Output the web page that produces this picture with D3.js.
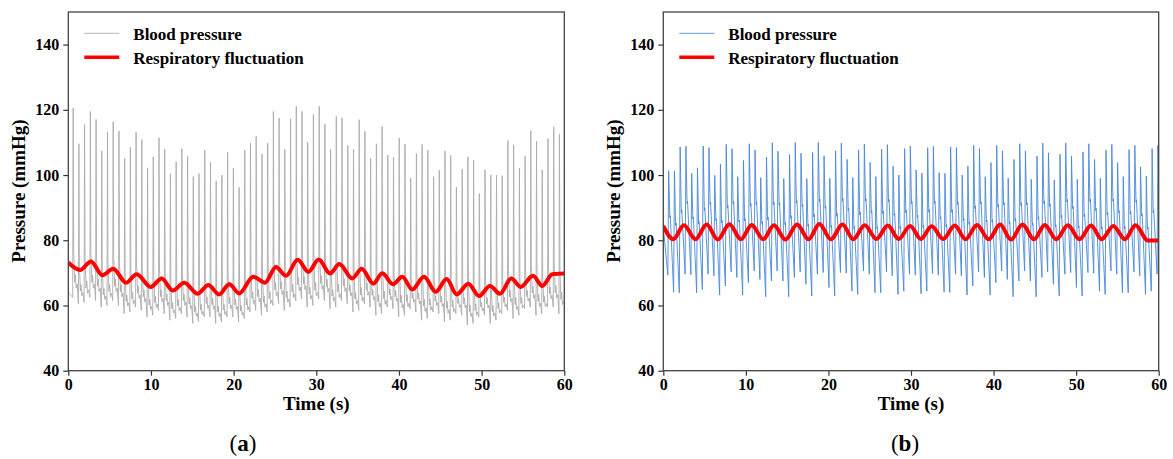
<!DOCTYPE html>
<html>
<head>
<meta charset="utf-8">
<script src="https://cdn.jsdelivr.net/npm/d3@7/dist/d3.min.js"></script>
<style>
  body { margin: 0; background: #fff; }
  text { font-family: "Liberation Serif", "Times New Roman", serif; }
</style>
</head>
<body>
<div id="container"></div>
<script>
var width = 1173,
    height = 459;

// ---- panel (a): beats ----
var leftBeatTimes = [0.53, 1.22, 1.91, 2.61, 3.30, 3.99, 4.68, 5.37, 6.07, 6.76,
    7.45, 8.14, 8.83, 9.53, 10.22, 10.91, 11.60, 12.29, 12.99, 13.68,
    14.37, 15.06, 15.75, 16.45, 17.14, 17.83, 18.52, 19.21, 19.91, 20.60,
    21.29, 21.98, 22.67, 23.37, 24.06, 24.75, 25.44, 26.13, 26.83, 27.52,
    28.21, 28.90, 29.59, 30.29, 30.98, 31.67, 32.36, 33.05, 33.75, 34.44,
    35.13, 35.82, 36.51, 37.21, 37.90, 38.59, 39.28, 39.97, 40.67, 41.36,
    42.05, 42.74, 43.43, 44.13, 44.82, 45.51, 46.20, 46.89, 47.59, 48.28,
    48.97, 49.66, 50.35, 51.05, 51.74, 52.43, 53.12, 53.81, 54.51, 55.20,
    55.89, 56.58, 57.27, 57.97, 58.66, 59.35];
var leftSystolic = [120.5, 109.6, 115.5, 119.5, 117.1, 107.4, 113.2, 116.4, 113.5, 105.1,
    108.6, 113.2, 110.9, 102.2, 105.6, 111.4, 108.0, 100.4, 104.1, 108.1,
    105.8, 99.5, 100.4, 107.6, 103.9, 98.2, 100.0, 107.0, 102.1, 96.2,
    107.6, 109.8, 111.9, 106.5, 109.8, 119.5, 117.5, 107.9, 117.3, 121.1,
    119.5, 110.0, 118.6, 121.1, 115.7, 107.9, 118.0, 117.6, 109.1, 107.9,
    117.0, 113.4, 105.1, 109.6, 114.9, 106.1, 105.5, 111.4, 109.5, 99.1,
    106.6, 109.4, 107.6, 99.5, 101.5, 107.4, 106.0, 96.3, 101.8, 105.6,
    104.6, 94.3, 101.6, 100.0, 100.0, 99.8, 110.6, 109.3, 102.1, 105.8,
    113.6, 110.4, 101.6, 111.2, 114.8, 112.5];
var leftDiastolic = [62.5, 60.5, 61.0, 62.5, 61.5, 59.5, 60.0, 61.5, 60.0, 57.5,
    58.0, 59.5, 58.5, 56.5, 57.0, 58.5, 57.5, 55.5, 56.0, 57.5,
    56.5, 54.5, 55.0, 56.5, 56.5, 54.5, 55.0, 56.5, 56.5, 55.0,
    56.0, 58.0, 58.5, 57.0, 58.0, 60.0, 60.5, 58.5, 59.5, 61.5,
    62.0, 59.5, 60.0, 62.0, 61.5, 59.0, 59.5, 61.5, 60.5, 58.0,
    58.5, 60.5, 59.5, 57.0, 57.5, 59.5, 59.0, 56.5, 57.0, 59.0,
    58.0, 55.5, 56.0, 58.0, 57.5, 55.0, 55.5, 57.5, 57.0, 54.0,
    54.5, 56.5, 57.0, 54.5, 55.5, 57.5, 58.5, 56.0, 57.0, 59.0,
    59.5, 57.0, 57.5, 59.5, 59.5, 57.5];
var leftStartValue = 64;
// one beat of (a): seconds after onset, and fraction of the pulse height
var leftShapeOffset = [0, 0.06, 0.12, 0.16, 0.24, 0.32, 0.42, 0.55];
var leftShapeLevel = [0, 1, 0.24, 0.2, 0.08, 0.12, 0.05, 0.07];

var leftRespTime = [0, 1.42, 2.75, 4.11, 5.44, 6.98, 8.27, 9.97, 11.30, 12.63,
    14.03, 15.65, 16.94, 18.23, 19.48, 20.68, 22.38, 23.79, 25.12, 26.33,
    27.75, 29.03, 30.30, 31.66, 32.78, 34.35, 35.49, 36.89, 37.98, 39.28,
    40.40, 41.61, 43.03, 44.44, 45.77, 46.98, 48.39, 49.68, 51.01, 52.22,
    53.59, 54.72, 56.21, 57.34, 58.55, 60];
var leftRespValue = [73.2, 70.9, 73.5, 69.3, 71.3, 67.0, 69.6, 65.7, 68.3, 64.6,
    67.0, 63.6, 66.3, 63.4, 66.5, 63.7, 68.8, 67.0, 71.8, 69.1,
    74.0, 70.3, 74.1, 69.8, 72.7, 68.3, 71.3, 66.7, 69.9, 66.5,
    68.8, 64.9, 68.8, 64.2, 68.1, 63.4, 66.7, 62.9, 66.0, 63.6,
    68.3, 65.7, 69.1, 66.0, 69.6, 69.8];

// ---- panel (b) ----
var rightBeatTimes = [0.55, 1.25, 1.94, 2.64, 3.34, 4.04, 4.73, 5.43, 6.13, 6.82,
    7.52, 8.22, 8.91, 9.61, 10.31, 11.01, 11.70, 12.40, 13.10, 13.79,
    14.49, 15.19, 15.88, 16.58, 17.28, 17.98, 18.67, 19.37, 20.07, 20.76,
    21.46, 22.16, 22.85, 23.55, 24.25, 24.95, 25.64, 26.34, 27.04, 27.73,
    28.43, 29.13, 29.82, 30.52, 31.22, 31.92, 32.61, 33.31, 34.01, 34.70,
    35.40, 36.10, 36.79, 37.49, 38.19, 38.89, 39.58, 40.28, 40.98, 41.67,
    42.37, 43.07, 43.76, 44.46, 45.16, 45.86, 46.55, 47.25, 47.95, 48.64,
    49.34, 50.04, 50.73, 51.43, 52.13, 52.83, 53.52, 54.22, 54.92, 55.61,
    56.31, 57.01, 57.70, 58.40, 59.10, 59.80];
var rightSystolic = [101.3, 101.3, 108.6, 108.8, 100.5, 102.2, 108.9, 108.4, 99.9, 103.4,
    109.4, 108.1, 99.5, 104.5, 109.6, 107.7, 99.2, 105.5, 109.9, 107.3,
    98.9, 106.3, 110.0, 106.7, 98.9, 106.9, 110.0, 105.9, 99.0, 107.4,
    109.8, 104.8, 99.2, 107.7, 109.5, 103.9, 99.5, 107.9, 109.3, 102.7,
    100.0, 108.1, 108.9, 101.6, 100.6, 108.4, 108.8, 100.7, 100.5, 108.6,
    108.4, 100.0, 102.7, 109.1, 108.1, 99.5, 103.8, 109.1, 107.4, 99.0,
    104.8, 109.6, 107.4, 98.7, 105.8, 109.8, 106.8, 98.5, 106.4, 109.8,
    105.8, 98.7, 107.1, 109.6, 104.8, 99.0, 107.6, 109.4, 103.8, 99.5,
    107.8, 109.1, 102.5, 99.7, 108.1, 109.1];
var rightDiastolic = [69.3, 64.1, 63.9, 69.6, 69.4, 63.9, 64.9, 69.6, 69.1, 63.2,
    66.0, 70.3, 68.6, 63.2, 67.0, 70.6, 68.0, 62.7, 67.5, 70.6,
    67.5, 62.7, 68.6, 70.3, 66.5, 62.9, 69.6, 70.1, 65.5, 62.9,
    70.1, 69.9, 64.4, 63.4, 70.6, 69.6, 63.9, 63.9, 70.3, 69.1,
    63.4, 64.4, 69.6, 69.3, 63.6, 64.4, 69.8, 69.3, 64.1, 64.0,
    69.6, 69.1, 63.2, 66.0, 70.3, 68.6, 63.2, 67.0, 70.6, 68.0,
    62.7, 67.5, 70.6, 67.5, 62.7, 68.6, 70.3, 66.5, 62.9, 69.6,
    70.1, 65.5, 62.9, 70.1, 69.9, 64.4, 63.4, 70.6, 69.6, 63.9,
    63.9, 70.3, 69.1, 63.4, 64.4, 69.6];
var rightStartValue = 84;
var rightShapeOffset = [0, 0.10, 0.24, 0.30];
var rightShapeLevel = [0, 1, 0.55, 0.57];

var rightRespTime = [0, 1.21, 2.5, 3.9, 5.25, 6.6, 8.0, 9.4, 10.7, 12.1,
    13.4, 14.8, 16.2, 17.6, 18.9, 20.3, 21.7, 23.0, 24.4, 25.8,
    27.2, 28.5, 29.9, 31.2, 32.5, 33.9, 35.3, 36.6, 38.0, 39.4,
    40.8, 42.1, 43.5, 44.9, 46.2, 47.6, 49.0, 50.4, 51.8, 53.1,
    54.5, 55.9, 57.2, 58.7, 60];
var rightRespValue = [84.4, 80.3, 84.6, 80.3, 84.8, 80.2, 84.9, 80.3, 84.7, 80.3,
    84.6, 80.2, 84.8, 80.3, 85.0, 80.3, 84.8, 80.3, 84.6, 80.4,
    84.5, 80.4, 84.4, 80.4, 84.3, 80.4, 84.5, 80.3, 84.7, 80.3,
    84.8, 80.2, 84.8, 80.3, 84.7, 80.3, 84.6, 80.3, 84.5, 80.3,
    84.4, 80.3, 84.6, 79.9, 79.9];

var xTicks = [0, 10, 20, 30, 40, 50, 60];
var yTicks = [40, 60, 80, 100, 120, 140];
var legendLabels = ["Blood pressure", "Respiratory fluctuation"];

var svg = d3.select("#container").append("svg")
    .attr("width", width)
    .attr("height", height);

function beatPoints(times, sys, dia, offs, lvls, startValue) {
    var pts = [[0, startValue]];
    for (let i = 0; i < times.length; ++i) {
        for (let j = 0; j < offs.length; ++j) {
            pts.push([times[i] + offs[j], dia[i] + lvls[j] * (sys[i] - dia[i])]);
        }
    }
    return pts;
}

function DrawPanel(cfg) {
    var x = d3.scaleLinear().domain([0, 60]).range([cfg.left, cfg.right]);
    var y = d3.scaleLinear().domain([40, 150]).range([370.7, 12]);
    var g = svg.append("g");

    g.append("clipPath").attr("id", "clip" + cfg.id)
        .append("rect")
        .attr("x", cfg.left).attr("y", 12)
        .attr("width", cfg.right - cfg.left).attr("height", 370.7 - 12);

    var line = d3.line().x(d => x(d[0])).y(d => y(d[1]));

    g.append("path")
        .datum(beatPoints(cfg.times, cfg.sys, cfg.dia, cfg.offs, cfg.lvls, cfg.start))
        .attr("clip-path", "url(#clip" + cfg.id + ")")
        .attr("fill", "none")
        .attr("stroke", cfg.bpColor)
        .attr("stroke-width", cfg.bpWidth)
        .attr("stroke-linejoin", "round")
        .attr("d", line);

    var resp = cfg.respT.map((t, i) => [t, cfg.respV[i]]);
    g.append("path")
        .datum(resp)
        .attr("clip-path", "url(#clip" + cfg.id + ")")
        .attr("fill", "none")
        .attr("stroke", "#ff0000")
        .attr("stroke-width", 4)
        .attr("stroke-linejoin", "round")
        .attr("d", line.curve(d3.curveMonotoneX));

    // axes
    var ax = g.append("g").attr("transform", "translate(0,370.7)")
        .call(d3.axisBottom(x).tickValues(xTicks).tickSize(5).tickPadding(3));
    var ay = g.append("g").attr("transform", "translate(" + cfg.left + ",0)")
        .call(d3.axisLeft(y).tickValues(yTicks).tickSize(5).tickPadding(4));
    [ax, ay].forEach(a => {
        a.select(".domain").remove();
        a.selectAll("line").attr("stroke", "#333").attr("stroke-width", 1.2);
        a.selectAll("text")
            .attr("fill", "#000")
            .style("font-family", '"Liberation Serif", serif')
            .style("font-weight", "bold")
            .style("font-size", "16px");
    });

    g.append("rect")
        .attr("x", cfg.left).attr("y", 12)
        .attr("width", cfg.right - cfg.left).attr("height", 370.7 - 12)
        .attr("fill", "none")
        .attr("stroke", "#444")
        .attr("stroke-width", 1.3);

    // labels
    g.append("text")
        .attr("x", (cfg.left + cfg.right) / 2).attr("y", 410)
        .attr("text-anchor", "middle")
        .style("font-weight", "bold").style("font-size", "19px")
        .text("Time (s)");
    g.append("text")
        .attr("transform", "translate(" + (cfg.left - 43) + ",191) rotate(-90)")
        .attr("text-anchor", "middle")
        .style("font-weight", "bold").style("font-size", "19px")
        .text("Pressure (mmHg)");

    var cap = g.append("text")
        .attr("x", cfg.capX).attr("y", 451)
        .attr("text-anchor", "middle")
        .style("font-size", "23px");
    cap.append("tspan").text("(");
    cap.append("tspan").style("font-weight", "bold").text(cfg.id);
    cap.append("tspan").text(")");

    // legend
    var lx = cfg.left + 16;
    var leg = g.append("g");
    leg.append("line")
        .attr("x1", lx).attr("x2", lx + 35).attr("y1", 33.3).attr("y2", 33.3)
        .attr("stroke", cfg.legColor).attr("stroke-width", 1.2);
    leg.append("line")
        .attr("x1", lx).attr("x2", lx + 35).attr("y1", 57.3).attr("y2", 57.3)
        .attr("stroke", "#ff0000").attr("stroke-width", 3.5);
    leg.selectAll("text.lg").data(legendLabels).enter().append("text")
        .attr("class", "lg")
        .attr("x", lx + 49)
        .attr("y", (d, i) => 39.5 + i * 24)
        .style("font-weight", "bold").style("font-size", "17px")
        .text(d => d);
}

DrawPanel({
    id: "a", left: 68.3, right: 564.3, capX: 243,
    times: leftBeatTimes, sys: leftSystolic, dia: leftDiastolic,
    offs: leftShapeOffset, lvls: leftShapeLevel, start: leftStartValue,
    respT: leftRespTime, respV: leftRespValue,
    bpColor: "#ababab", bpWidth: 0.9, legColor: "#c4c4c4"
});
DrawPanel({
    id: "b", left: 663.3, right: 1158.7, capX: 905,
    times: rightBeatTimes, sys: rightSystolic, dia: rightDiastolic,
    offs: rightShapeOffset, lvls: rightShapeLevel, start: rightStartValue,
    respT: rightRespTime, respV: rightRespValue,
    bpColor: "#4a88d6", bpWidth: 0.9, legColor: "#86aee6"
});
</script>
</body>
</html>
